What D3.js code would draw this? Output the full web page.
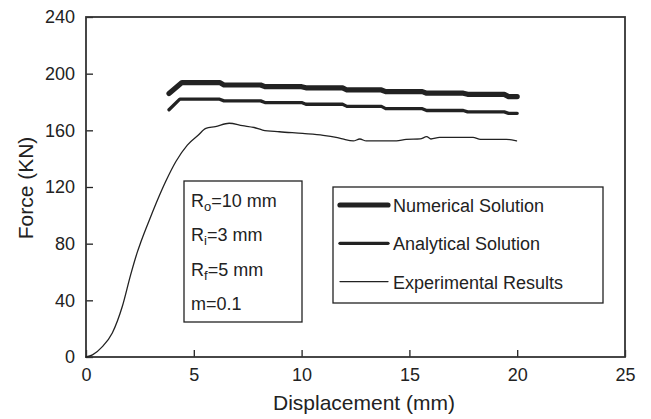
<!DOCTYPE html>
<html>
<head>
<meta charset="utf-8">
<script src="https://cdn.jsdelivr.net/npm/d3@7"></script>
<style>
  body { margin: 0; background: #fff; }
  svg { font-family: Arial, "Liberation Sans", sans-serif; }
</style>
</head>
<body>
<svg id="chart" width="651" height="419"></svg>
<script>
// data
const numX = [3.85, 4.45, 6.2, 6.4, 8.1, 8.3, 10.0, 10.2, 11.9, 12.1, 13.7, 13.9, 15.6, 15.8, 17.5, 17.7, 19.4, 19.6, 20.0];
const numY = [186, 193.7, 193.7, 192, 192, 190.8, 190.8, 190, 190, 188.5, 188.5, 187.3, 187.3, 186.2, 186.2, 185.4, 185.4, 183.8, 183.8];

const anaX = [3.85, 4.35, 6.2, 6.4, 8.1, 8.3, 10.0, 10.2, 11.9, 12.1, 13.7, 13.9, 15.6, 15.8, 17.5, 17.7, 19.4, 19.6, 20.0];
const anaY = [174.5, 182, 182, 180.8, 180.8, 179.6, 179.6, 178.4, 178.4, 176.9, 176.9, 175.3, 175.3, 174, 174, 173, 173, 172, 172];

const expX = [0, 0.3, 0.76, 1.22, 1.69, 2.07, 2.38, 2.54, 3.0, 3.35, 3.7, 4.17, 4.7, 5.2, 5.56, 6.0, 6.64, 7.26, 7.8, 8.19, 8.97, 10.05, 11.0, 11.6, 11.9, 12.4, 12.7, 13.0, 14.4, 14.85, 15.5, 15.8, 16.0, 16.4, 17.95, 18.3, 19.5, 19.97];
const expY = [0, 1.5, 7.3, 17, 36, 58, 74, 81, 99, 112, 124, 138, 149.6, 156.5, 161.4, 162.6, 165, 163.3, 162, 160.2, 159, 157.8, 156.5, 155, 153.9, 152.5, 153.9, 152.5, 152.5, 153.6, 153.9, 155.5, 153.9, 155, 155, 153.6, 153.6, 152.5];

const xTicks = [0, 5, 10, 15, 20, 25];
const yTicks = [0, 40, 80, 120, 160, 200, 240];

const legendNames = ["Numerical Solution", "Analytical Solution", "Experimental Results"];
const legendWidths = [5.2, 3.3, 1.3];

const svg = d3.select("#chart");
const margin = { top: 17, right: 26, bottom: 62, left: 86 };
const width = 651 - margin.left - margin.right;
const height = 419 - margin.top - margin.bottom;

const g = svg.append("g").attr("transform", `translate(${margin.left},${margin.top})`);

const x = d3.scaleLinear().domain([0, 25]).range([0, width]);
const y = d3.scaleLinear().domain([0, 240]).range([height, 0]);

const ink = "#222";

// axes with inward ticks
const xAxis = g.append("g")
  .attr("transform", `translate(0,${height})`)
  .call(d3.axisBottom(x).tickValues(xTicks).tickSizeInner(-7).tickSizeOuter(0).tickPadding(11));
const yAxis = g.append("g")
  .call(d3.axisLeft(y).tickValues(yTicks).tickSizeInner(-7).tickSizeOuter(0).tickPadding(11));

[xAxis, yAxis].forEach(a => {
  a.select(".domain").remove();
  a.selectAll("line").attr("stroke", ink).attr("stroke-width", 1.3);
  a.selectAll("text").attr("fill", ink).attr("font-size", 18).attr("font-family", "Arial, 'Liberation Sans', sans-serif");
});
xAxis.selectAll("text").attr("dy", "0.71em");

// frame
g.append("rect")
  .attr("width", width).attr("height", height)
  .attr("fill", "none").attr("stroke", "#333").attr("stroke-width", 1.8);

// lines
const line = d3.line().x(d => x(d[0])).y(d => y(d[1]));
const series = [
  { xs: numX, ys: numY, w: legendWidths[0] },
  { xs: anaX, ys: anaY, w: legendWidths[1] },
  { xs: expX, ys: expY, w: legendWidths[2] }
];
series.forEach(s => {
  g.append("path")
    .datum(s.xs.map((v, i) => [v, s.ys[i]]))
    .attr("d", line.curve(s.w < 2 ? d3.curveMonotoneX : d3.curveLinear))
    .attr("fill", "none")
    .attr("stroke", ink)
    .attr("stroke-width", s.w)
    .attr("stroke-linejoin", "round")
    .attr("stroke-linecap", "round");
});

// parameter box
g.append("rect")
  .attr("x", 98).attr("y", 164).attr("width", 118).attr("height", 141)
  .attr("fill", "#fff").attr("stroke", ink).attr("stroke-width", 1.3);

const params = [["R", "o", "=10 mm"], ["R", "i", "=3 mm"], ["R", "f", "=5 mm"], ["m=0.1", "", ""]];
params.forEach((p, i) => {
  const t = g.append("text")
    .attr("x", 105).attr("y", 189.5 + i * 34.6)
    .attr("font-size", 18).attr("fill", ink);
  t.append("tspan").text(p[0]);
  if (p[1]) {
    t.append("tspan").attr("dy", 4).attr("font-size", 13).text(p[1]);
    t.append("tspan").attr("dy", -4).text(p[2]);
  }
});

// legend
g.append("rect")
  .attr("x", 247).attr("y", 170).attr("width", 270).attr("height", 116)
  .attr("fill", "#fff").attr("stroke", ink).attr("stroke-width", 1.3);

legendNames.forEach((name, i) => {
  const cy = 188 + i * 38.3;
  g.append("line")
    .attr("x1", 254).attr("x2", 302).attr("y1", cy).attr("y2", cy)
    .attr("stroke", ink).attr("stroke-width", legendWidths[i])
    .attr("stroke-linecap", "round");
  g.append("text")
    .attr("x", 307).attr("y", cy + 7)
    .attr("font-size", 18).attr("fill", ink)
    .text(name);
});

// axis titles
svg.append("text")
  .attr("x", 364).attr("y", 410)
  .attr("text-anchor", "middle").attr("font-size", 21).attr("fill", ink)
  .text("Displacement (mm)");
svg.append("text")
  .attr("transform", `translate(33,188) rotate(-90)`)
  .attr("text-anchor", "middle").attr("font-size", 21).attr("fill", ink)
  .text("Force (KN)");
</script>
</body>
</html>
